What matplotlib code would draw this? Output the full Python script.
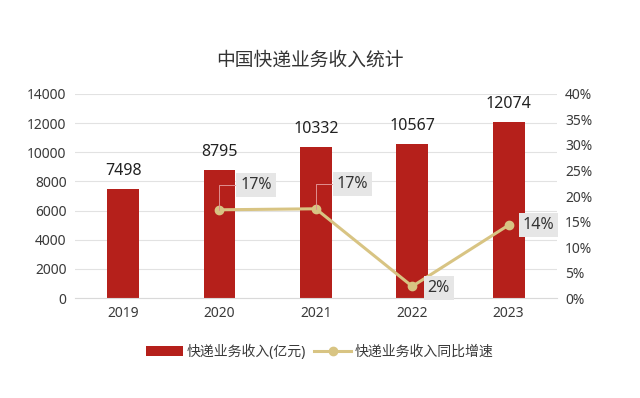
import numpy as np
import matplotlib.pyplot as plt

# 숫자는 Noto Sans, 한자는 CJK 폰트로
plt.rcParams['font.family'] = ['Noto Sans', 'Noto Sans CJK SC', 'DejaVu Sans']

years = ['2019', '2020', '2021', '2022', '2023']
revenue = [7498, 8795, 10332, 10567, 12074]  # 亿元
growth_years = [1, 2, 3, 4]
growth = [17.3, 17.5, 2.3, 14.3]  # %
growth_labels = ['17%', '17%', '2%', '14%']

bar_color = '#b5201b'
line_color = '#d8c483'
text_color = '#3a3a3a'

fig = plt.figure(figsize=(6.4, 3.98), dpi=100)
ax = fig.add_axes([0.117, 0.251, 0.753, 0.513])
x = np.arange(len(years))

ax.bar(x, revenue, width=0.33, color=bar_color, zorder=2, label='快递业务收入(亿元)')
for xi, v in zip(x, revenue):
    ax.text(xi, v + 700, str(v), ha='center', va='bottom', fontsize=11.5, color='#222222')

ax.set_xlim(-0.5, 4.5)
ax.set_ylim(0, 14000)
ax.set_yticks(np.arange(0, 14001, 2000))
ax.set_xticks(x)
ax.set_xticklabels(years)
ax.grid(axis='y', color='#e2e2e2', linewidth=0.8, zorder=0)
ax.tick_params(length=0, labelsize=10, labelcolor=text_color, pad=6)
for s in ax.spines.values():
    s.set_visible(False)
ax.spines['bottom'].set_visible(True)
ax.spines['bottom'].set_color('#d9d9d9')

ax2 = ax.twinx()
ax2.plot(growth_years, growth, color=line_color, linewidth=2.2, marker='o',
         markersize=6, zorder=3, label='快递业务收入同比增速')
ax2.set_ylim(0, 40)
ax2.set_yticks(np.arange(0, 41, 5))
ax2.set_yticklabels([f'{t}%' for t in range(0, 41, 5)])
ax2.tick_params(length=0, labelsize=10, labelcolor=text_color, pad=6)
for s in ax2.spines.values():
    s.set_visible(False)

box = dict(boxstyle='square,pad=0.25', facecolor='#e6e6e6', edgecolor='none')
# 2020 / 2021 은 지시선, 2022 / 2023 은 오른쪽
offsets = [(15, 18), (15, 18), (11, -1), (10, 0)]
for i, (gx, gv, lab) in enumerate(zip(growth_years, growth, growth_labels)):
    dx, dy = offsets[i]
    if i < 2:
        ax2.annotate(lab, (gx, gv), xytext=(dx, dy), textcoords='offset points',
                     ha='left', va='center', fontsize=11.5, color='#333333', bbox=box,
                     arrowprops=dict(arrowstyle='-', color='#e09090', lw=0.7,
                                     connectionstyle='angle,angleA=0,angleB=90,rad=0',
                                     shrinkA=0, shrinkB=0))
    else:
        ax2.annotate(lab, (gx, gv), xytext=(dx, dy), textcoords='offset points',
                     ha='left', va='center', fontsize=11.5, color='#333333', bbox=box)

h1, l1 = ax.get_legend_handles_labels()
h2, l2 = ax2.get_legend_handles_labels()
fig.legend(h1 + h2, l1 + l2, loc='center', bbox_to_anchor=(0.5, 0.115), ncol=2,
           frameon=False, fontsize=10, handlelength=2.6, columnspacing=0.6,
           handletextpad=0.3, labelcolor=text_color)

fig.text(0.485, 0.848, '中国快递业务收入统计', ha='center', va='center',
         fontsize=13.5, color='#333333')

fig.savefig('out.png', dpi=100, facecolor='white')
